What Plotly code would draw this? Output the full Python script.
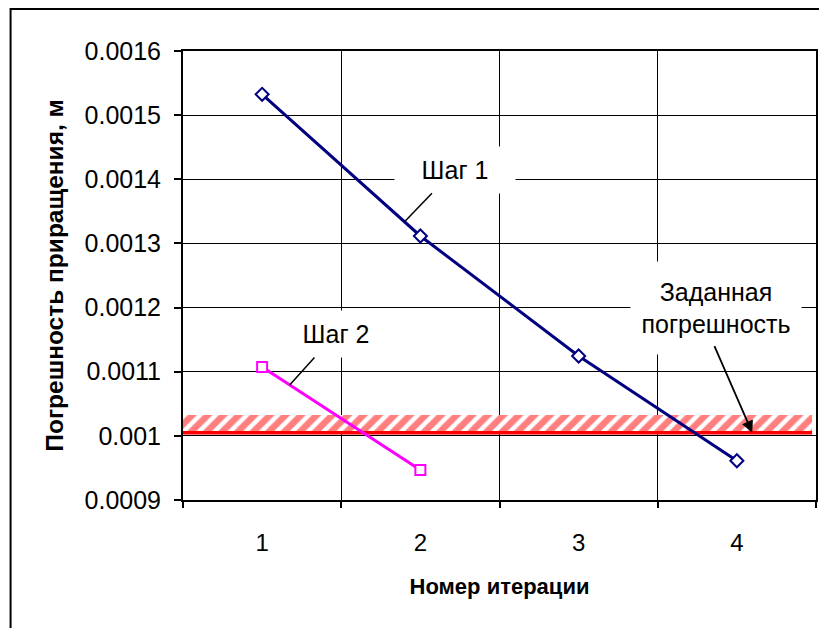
import plotly.graph_objects as go

iterations = [1, 2, 3, 4]
step1_err = [0.0015325, 0.0013116, 0.0011245, 0.0009612]
step2_iter = [1, 2]
step2_err = [0.0011073, 0.0009467]
band_x = [0.5, 4.475]
band_low = 0.001003
band_high = 0.0010325
band_line = 0.001005
y_ticks = [0.0009, 0.0010, 0.0011, 0.0012, 0.0013, 0.0014, 0.0015, 0.0016]
y_tick_labels = ["0.0009", "0.001", "0.0011", "0.0012", "0.0013", "0.0014", "0.0015", "0.0016"]
x_tick_labels = ["1", "2", "3", "4"]

FONT = "Liberation Sans, Arial, sans-serif"

fig = go.Figure()

# hatched tolerance band
fig.add_trace(go.Scatter(
    x=[band_x[0], band_x[1], band_x[1], band_x[0], band_x[0]],
    y=[band_low, band_low, band_high, band_high, band_low],
    mode="lines", fill="toself", line=dict(width=0, color="red"),
    fillcolor="white",
    fillpattern=dict(shape="/", fgcolor="#ff0000", bgcolor="white", size=11, solidity=0.6),
    hoverinfo="skip", showlegend=False))
fig.add_trace(go.Scatter(
    x=band_x, y=[band_line, band_line], mode="lines",
    line=dict(color="#ff0000", width=3.5), hoverinfo="skip", showlegend=False))

fig.add_trace(go.Scatter(
    x=iterations, y=step1_err, mode="lines+markers", name="Шаг 1",
    line=dict(color="#000080", width=3),
    marker=dict(symbol="diamond", size=10, color="white", line=dict(color="#000080", width=2)),
    showlegend=False))
fig.add_trace(go.Scatter(
    x=step2_iter, y=step2_err, mode="lines+markers", name="Шаг 2",
    line=dict(color="#ff00ff", width=3),
    marker=dict(symbol="square", size=10, color="white", line=dict(color="#ff00ff", width=2)),
    showlegend=False))

ann_font = dict(family=FONT, size=25, color="black")
annotations = [
    dict(x=1.9, y=step1_err[0] + 0.9 * (step1_err[1] - step1_err[0]), xref="x", yref="y",
         text="Шаг 1", ax=50, ay=-52,
         showarrow=True, arrowhead=0, arrowwidth=1.5, arrowcolor="black",
         bgcolor="white", width=118, height=44, font=ann_font),
    dict(x=1.174, y=step2_err[0] + 0.174 * (step2_err[1] - step2_err[0]), xref="x", yref="y",
         text="Шаг 2", ax=46, ay=-51,
         showarrow=True, arrowhead=0, arrowwidth=1.5, arrowcolor="black",
         bgcolor="white", width=118, height=44, font=ann_font),
    dict(x=3.87, y=0.0012, xref="x", yref="y",
         text="Заданная<br>погрешность", showarrow=False,
         bgcolor="white", width=168, height=90, font=ann_font),
    dict(x=4.097, y=band_line, xref="x", yref="y", text="",
         ax=-38, ay=-87, showarrow=True, arrowhead=2, arrowsize=1.3,
         arrowwidth=1.8, arrowcolor="black", font=dict(size=1), borderpad=0),
]

fig.update_layout(
    width=819, height=620,
    margin=dict(l=175, r=9, t=43, b=128),
    paper_bgcolor="white", plot_bgcolor="white",
    font=dict(family=FONT, size=24, color="black"),
    annotations=annotations,
    shapes=[dict(type="rect", xref="paper", yref="paper",
                 x0=-0.2724, x1=1.5, y0=-0.6, y1=1.0935,
                 line=dict(color="black", width=2), fillcolor="rgba(0,0,0,0)", layer="below")],
)

fig.update_xaxes(
    range=[0.5, 4.5], tickmode="array", tickvals=iterations, ticktext=x_tick_labels,
    ticks="", showgrid=False, zeroline=False, ticklabelstandoff=20,
    showline=True, linecolor="black", linewidth=2, mirror=True,
    tickfont=dict(family=FONT, size=24),
    minor=dict(tick0=0.5, dtick=1, ticks="outside", ticklen=6, tickwidth=2, tickcolor="black",
               showgrid=True, gridcolor="black", gridwidth=1),
    title=dict(text="<b>Номер итерации</b>", font=dict(family=FONT, size=22), standoff=24),
)
fig.update_yaxes(
    range=[0.0009, 0.0016], tickmode="array", tickvals=y_ticks, ticktext=y_tick_labels,
    ticks="outside", ticklen=7, tickwidth=2, tickcolor="black", ticklabelstandoff=8,
    showgrid=True, gridcolor="black", gridwidth=1, zeroline=False,
    showline=True, linecolor="black", linewidth=2, mirror=True,
    tickfont=dict(family=FONT, size=25),
    title=dict(text="<b>Погрешность приращения, м</b>", font=dict(family=FONT, size=24.5), standoff=14),
)

fig.write_html("out.html")
